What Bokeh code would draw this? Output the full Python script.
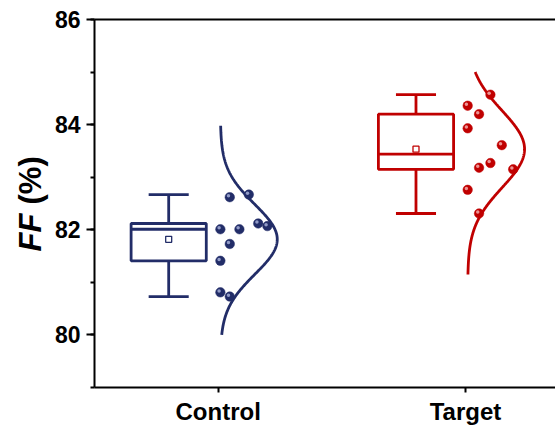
import numpy as np
from bokeh.plotting import figure
from bokeh.layouts import row
from bokeh.models import Range1d, FixedTicker, SingleIntervalTicker, LinearAxis, Label, ColumnDataSource
from bokeh.embed import file_html
from bokeh.resources import INLINE

# ---------------- data ----------------
groups = ["Control", "Target"]
group_pos = [1, 2]
control_values = [82.62, 82.67, 82.01, 82.01, 82.12, 82.07, 81.73, 81.41, 80.81, 80.73]
control_jitter = [0.047, 0.124, 0.009, 0.086, 0.162, 0.199, 0.047, 0.009, 0.009, 0.047]
target_values = [84.36, 84.20, 84.57, 83.93, 83.61, 83.27, 83.18, 83.15, 82.76, 82.31]
target_jitter = [0.009, 0.055, 0.101, 0.009, 0.147, 0.101, 0.055, 0.193, 0.009, 0.055]
curve_range_control = [80.0, 83.98]
curve_range_target = [81.15, 85.0]
y_ticks = [80, 82, 84, 86]

colors = ["#222D68", "#C00000"]
highlight = ["#AEB6DE", "#F6B8B8"]
FONT = "Liberation Sans"

W, H = 555, 430
TITLE_W = 50
B_TOP, B_BOTTOM = 19, 43
PX_PER_Y = (H - B_TOP - B_BOTTOM) / 7.0

y_range = Range1d(79, 86)

def page_y_to_value(py):
    return 79 + (H - B_BOTTOM - py) / PX_PER_Y

# ---------------- title strip (y-axis title) ----------------
tf = figure(width=TITLE_W, height=H, x_range=Range1d(0, TITLE_W), y_range=y_range,
            x_axis_type=None, y_axis_type=None,
            output_backend="svg", toolbar_location=None,
            min_border_left=0, min_border_right=0, min_border_top=B_TOP, min_border_bottom=B_BOTTOM)
tf.xgrid.visible = False
tf.ygrid.visible = False
tf.outline_line_color = None
tf.add_layout(Label(x=30, y=page_y_to_value(251), angle=np.pi / 2, text="FF", text_font=FONT,
                    text_font_style="bold italic", text_font_size="31px",
                    text_align="left", text_baseline="middle", text_color="black"))
tf.add_layout(Label(x=30, y=page_y_to_value(204), angle=np.pi / 2, text="(%)", text_font=FONT,
                    text_font_style="bold", text_font_size="31px",
                    text_align="left", text_baseline="middle", text_color="black"))

# ---------------- main figure ----------------
X_END = 0.5 + (W - 94) / 247.3
p = figure(width=W - TITLE_W, height=H, x_range=Range1d(0.5, X_END), y_range=y_range,
           output_backend="svg", toolbar_location=None,
           min_border_left=94 - TITLE_W, min_border_top=B_TOP, min_border_right=0,
           min_border_bottom=B_BOTTOM)
p.xgrid.visible = False
p.ygrid.visible = False
p.outline_line_color = None

# x axis
p.xaxis.ticker = FixedTicker(ticks=group_pos)
p.xaxis.major_label_overrides = {pos: name for pos, name in zip(group_pos, groups)}
p.xaxis.axis_line_width = 2
p.xaxis.major_tick_line_width = 2
p.xaxis.major_tick_out = 5
p.xaxis.major_tick_in = 0
p.xaxis.minor_tick_line_color = None
p.xaxis.major_label_text_font = FONT
p.xaxis.major_label_text_font_style = "bold"
p.xaxis.major_label_text_font_size = "24px"
p.xaxis.major_label_text_color = "black"
p.xaxis.major_label_standoff = 5

# y axis
p.yaxis.ticker = SingleIntervalTicker(interval=2, num_minor_ticks=2)
p.yaxis.axis_line_width = 2
p.yaxis.major_tick_line_width = 2
p.yaxis.minor_tick_line_width = 2
p.yaxis.major_tick_out = 8
p.yaxis.major_tick_in = 0
p.yaxis.minor_tick_out = 4
p.yaxis.minor_tick_in = 0
p.yaxis.major_label_text_font = FONT
p.yaxis.major_label_text_font_style = "bold"
p.yaxis.major_label_text_font_size = "23px"
p.yaxis.major_label_text_color = "black"
p.yaxis.major_label_standoff = 6

# top frame line
top = LinearAxis(ticker=FixedTicker(ticks=[]), axis_line_width=2,
                 major_tick_line_color=None, minor_tick_line_color=None,
                 major_label_text_font_size="0px")
p.add_layout(top, "above")

# ---------------- marks ----------------
def hinges(vals):
    s = sorted(vals)
    n = len(s)
    half = n // 2
    lower = s[:half + (n % 2)]
    upper = s[half:]
    return float(np.median(lower)), float(np.median(s)), float(np.median(upper))

BOX_OFF = -0.2
BOX_HALF = 0.152
CAP_HALF = 0.081
CURVE_BASE = 0.009
CURVE_AMP = 0.23
px_x = 1.0 / 247.3
px_y = 1.0 / PX_PER_Y

for i, (pos, vals, jit, crange) in enumerate(zip(group_pos,
                                                 [control_values, target_values],
                                                 [control_jitter, target_jitter],
                                                 [curve_range_control, curve_range_target])):
    c = colors[i]
    q1, med, q3 = hinges(vals)
    lo, hi = min(vals), max(vals)
    mean = float(np.mean(vals))
    sd = float(np.std(vals, ddof=1))
    bx = pos + BOX_OFF

    # whiskers
    p.segment(x0=[bx, bx], y0=[q3, q1], x1=[bx, bx], y1=[hi, lo], line_color=c, line_width=2.8)
    p.segment(x0=[bx - CAP_HALF] * 2, y0=[hi, lo], x1=[bx + CAP_HALF] * 2, y1=[hi, lo],
              line_color=c, line_width=2.8)
    # box
    p.quad(left=[bx - BOX_HALF], right=[bx + BOX_HALF], bottom=[q1], top=[q3],
           fill_color="white", line_color=c, line_width=2.8)
    p.segment(x0=[bx - BOX_HALF], y0=[med], x1=[bx + BOX_HALF], y1=[med], line_color=c, line_width=2.8)
    # mean
    p.scatter(x=[bx], y=[mean], marker="square", size=6, fill_color="white",
              line_color=c, line_width=1.3)

    # normal curve from data mean / sd
    ys = np.linspace(crange[0], crange[1], 300)
    xs = pos + CURVE_BASE + CURVE_AMP * np.exp(-(ys - mean) ** 2 / (2 * sd ** 2))
    p.line(x=xs, y=ys, line_color=c, line_width=2.8)

    # points (ball style)
    xp = [pos + j for j in jit]
    src = ColumnDataSource(dict(x=xp, y=vals))
    p.scatter(x="x", y="y", source=src, size=9.5, fill_color=c, line_color=c, line_width=0.5)
    src2 = ColumnDataSource(dict(x=[v - 1.3 * px_x for v in xp], y=[v + 1.4 * px_y for v in vals]))
    p.scatter(x="x", y="y", source=src2, size=3.5, fill_color=highlight[i], fill_alpha=0.8,
              line_color=None)

layout = row(tf, p)
open("out.html", "w").write(file_html(layout, INLINE))
